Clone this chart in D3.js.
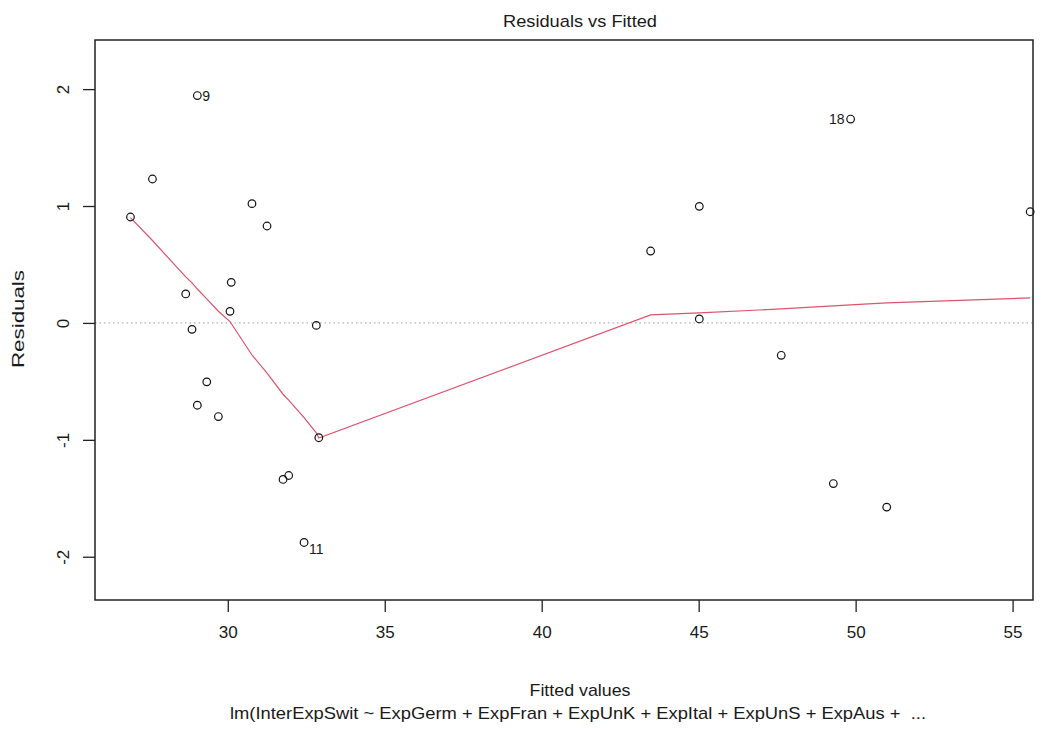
<!doctype html>
<html>
<head>
<meta charset="utf-8" />
<title>Residuals vs Fitted</title>
<script src="https://d3js.org/d3.v7.min.js"></script>
<style>
  body { margin: 0; background: #fff; }
  text { font-family: "Liberation Sans", Arial, sans-serif; fill: #1a1a1a; }
</style>
</head>
<body>
<svg width="1060" height="731"></svg>
<script>
// fitted values and residuals
var fitted = [26.90, 27.60, 28.66, 28.86, 29.03, 29.03, 29.33, 29.70, 30.07, 30.11,
              30.77, 31.25, 31.76, 31.94, 32.43, 32.82, 32.90,
              43.47, 45.02, 45.02, 47.63, 49.29, 49.84, 50.99, 55.56];
var residuals = [0.906, 1.231, 0.248, -0.055, 1.945, -0.704, -0.504, -0.801, 0.099, 0.347,
                 1.020, 0.829, -1.339, -1.305, -1.878, -0.021, -0.982,
                 0.615, 0.997, 0.034, -0.277, -1.374, 1.744, -1.576, 0.951];
// lowess smooth at each (sorted) fitted value
var smooth = [0.90, 0.705, 0.394, 0.343, 0.29, 0.29, 0.205, 0.10, 0.011, -0.005,
              -0.274, -0.43, -0.61, -0.66, -0.81, -0.94, -0.985,
              0.069, 0.086, 0.086, 0.12, 0.146, 0.155, 0.172, 0.214];
// labelled points: index, label, side
var labelled = [[4, "9", "right"], [14, "11", "below"], [22, "18", "left"]];
var xTicks = [30, 35, 40, 45, 50, 55];
var yTicks = [-2, -1, 0, 1, 2];

var svg = d3.select("svg");
var pLeft = 95, pRight = 1033, pTop = 40, pBottom = 600;

var x = d3.scaleLinear().domain([25.77, 55.65]).range([pLeft, pRight]);
var y = d3.scaleLinear().domain([-2.37, 2.42]).range([pBottom, pTop]);

// zero reference line
svg.append("line")
  .attr("x1", pLeft).attr("x2", pRight)
  .attr("y1", y(0)).attr("y2", y(0))
  .style("stroke", "#9e9e9e").style("stroke-width", 1)
  .style("stroke-dasharray", "1.5,3");

// axes
var xAxis = d3.axisBottom(x).tickValues(xTicks).tickSize(12).tickPadding(14);
var gx = svg.append("g").attr("transform", `translate(0, ${pBottom})`).call(xAxis);
gx.select(".domain").remove();
gx.selectAll("line").style("stroke", "#222").style("stroke-width", 1.3);
gx.selectAll("text").style("font-size", "17px").style("fill", "#1a1a1a")
  .attr("textLength", 19).attr("lengthAdjust", "spacingAndGlyphs");

var yAxis = d3.axisLeft(y).tickValues(yTicks).tickSize(12).tickFormat(d3.format("d"));
var gy = svg.append("g").attr("transform", `translate(${pLeft}, 0)`).call(yAxis);
gy.select(".domain").remove();
gy.selectAll("line").style("stroke", "#222").style("stroke-width", 1.3);
gy.selectAll("text")
  .style("font-size", "17px").style("fill", "#1a1a1a")
  .attr("x", null)
  .attr("text-anchor", "middle")
  .attr("transform", "translate(-32, 0) rotate(-90)")
  .attr("dy", "0.35em")
  .text(d => d < 0 ? "-" + Math.abs(d) : d);

// frame
svg.append("rect")
  .attr("x", pLeft).attr("y", pTop)
  .attr("width", pRight - pLeft).attr("height", pBottom - pTop)
  .style("fill", "none").style("stroke", "#222").style("stroke-width", 1.5);

// smooth line
var line = d3.line().x(d => x(d[0])).y(d => y(d[1]));
svg.append("path")
  .datum(fitted.map((f, i) => [f, smooth[i]]))
  .attr("d", line)
  .style("fill", "none").style("stroke", "#DF536B").style("stroke-width", 1.2);

// points
svg.append("g").selectAll("circle")
  .data(fitted.map((f, i) => [f, residuals[i]]))
  .enter().append("circle")
  .attr("cx", d => x(d[0])).attr("cy", d => y(d[1]))
  .attr("r", 3.8)
  .style("fill", "none").style("stroke", "#111").style("stroke-width", 1.2);

// point labels
svg.append("g").selectAll("text")
  .data(labelled).enter().append("text")
  .attr("x", d => x(fitted[d[0]]) + (d[2] == "left" ? -6 : 5))
  .attr("y", d => y(residuals[d[0]]) + (d[2] == "below" ? 12 : 5))
  .attr("text-anchor", d => d[2] == "left" ? "end" : "start")
  .style("font-size", "14px")
  .text(d => d[1]);

// titles
svg.append("text").attr("x", 580).attr("y", 27)
  .attr("text-anchor", "middle").style("font-size", "17px")
  .attr("textLength", 154).attr("lengthAdjust", "spacingAndGlyphs")
  .text("Residuals vs Fitted");

svg.append("text").attr("x", 580).attr("y", 696)
  .attr("text-anchor", "middle").style("font-size", "17px")
  .attr("textLength", 101).attr("lengthAdjust", "spacingAndGlyphs")
  .text("Fitted values");

svg.append("text").attr("x", 578).attr("y", 719)
  .attr("text-anchor", "middle").style("font-size", "17px")
  .style("white-space", "pre")
  .attr("textLength", 696).attr("lengthAdjust", "spacingAndGlyphs")
  .text("lm(InterExpSwit ~ ExpGerm + ExpFran + ExpUnK + ExpItal + ExpUnS + ExpAus +  ...");

svg.append("text")
  .attr("transform", "translate(24, 319) rotate(-90)")
  .attr("text-anchor", "middle").style("font-size", "17px")
  .attr("textLength", 98).attr("lengthAdjust", "spacingAndGlyphs")
  .text("Residuals");
</script>
</body>
</html>
